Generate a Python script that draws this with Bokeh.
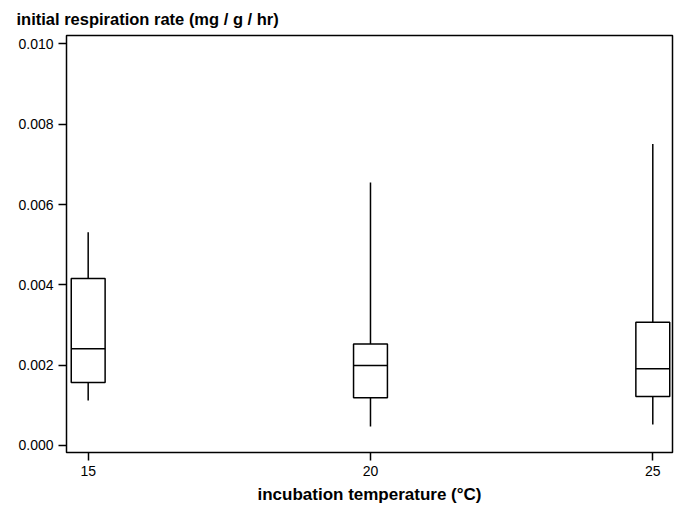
from bokeh.plotting import figure
from bokeh.models import Range1d, FixedTicker, NumeralTickFormatter, ColumnDataSource
from bokeh.transform import dodge
from bokeh.embed import file_html
from bokeh.resources import INLINE

# data
temps = [15, 20, 25]
whisker_low = [0.00112, 0.00047, 0.00052]
q1 = [0.00157, 0.00119, 0.00122]
median = [0.00241, 0.00199, 0.00191]
q3 = [0.00416, 0.00253, 0.00307]
whisker_high = [0.00531, 0.00655, 0.00751]
y_ticks = [0.0, 0.002, 0.004, 0.006, 0.008, 0.010]
x_ticks = [15, 20, 25]

src = ColumnDataSource(dict(x=temps, lo=whisker_low, q1=q1, med=median, q3=q3, hi=whisker_high))

FONT = "Liberation Sans"
LW = 1.5

p = figure(width=680, height=511, output_backend="svg", toolbar_location=None,
           x_range=Range1d(14.616, 25.349), y_range=Range1d(-0.000175, 0.01021),
           min_border_left=66, min_border_right=8, min_border_top=35, min_border_bottom=59)

p.segment(x0="x", y0="q3", x1="x", y1="hi", source=src, line_color="black", line_width=LW)
p.segment(x0="x", y0="lo", x1="x", y1="q1", source=src, line_color="black", line_width=LW)
p.vbar(x="x", width=0.6, bottom="q1", top="q3", source=src,
       fill_color="white", line_color="black", line_width=LW)
p.segment(x0=dodge("x", -0.3), y0="med", x1=dodge("x", 0.3), y1="med", source=src,
          line_color="black", line_width=LW)

p.title.text = "initial respiration rate (mg / g / hr)"
p.title.text_font = FONT
p.title.text_font_size = "16.5px"
p.title.text_font_style = "bold"
p.title.align = "left"
p.title.vertical_align = "top"
p.title.offset = -50
p.title.standoff = 12
p.title.text_color = "black"

p.xgrid.visible = False
p.ygrid.visible = False
p.outline_line_color = "black"
p.outline_line_width = LW
p.outline_line_alpha = 1.0

p.xaxis.ticker = FixedTicker(ticks=x_ticks)
p.yaxis.ticker = FixedTicker(ticks=y_ticks)
p.yaxis.formatter = NumeralTickFormatter(format="0.000")
p.xaxis.axis_label = "incubation temperature (°C)"

for ax in (p.xaxis, p.yaxis):
    ax.axis_line_color = None
    ax.major_tick_in = 0
    ax.major_tick_out = 8
    ax.minor_tick_line_color = None
    ax.major_tick_line_color = "black"
    ax.major_tick_line_width = LW
    ax.major_label_text_font = FONT
    ax.major_label_text_font_size = "14px"
    ax.major_label_text_color = "black"
    ax.major_label_standoff = 5
    ax.axis_label_text_font = FONT
    ax.axis_label_text_font_size = "17px"
    ax.axis_label_text_font_style = "bold"
    ax.axis_label_text_color = "black"
p.xaxis.axis_label_standoff = 6

open("out.html", "w").write(file_html(p, INLINE))
